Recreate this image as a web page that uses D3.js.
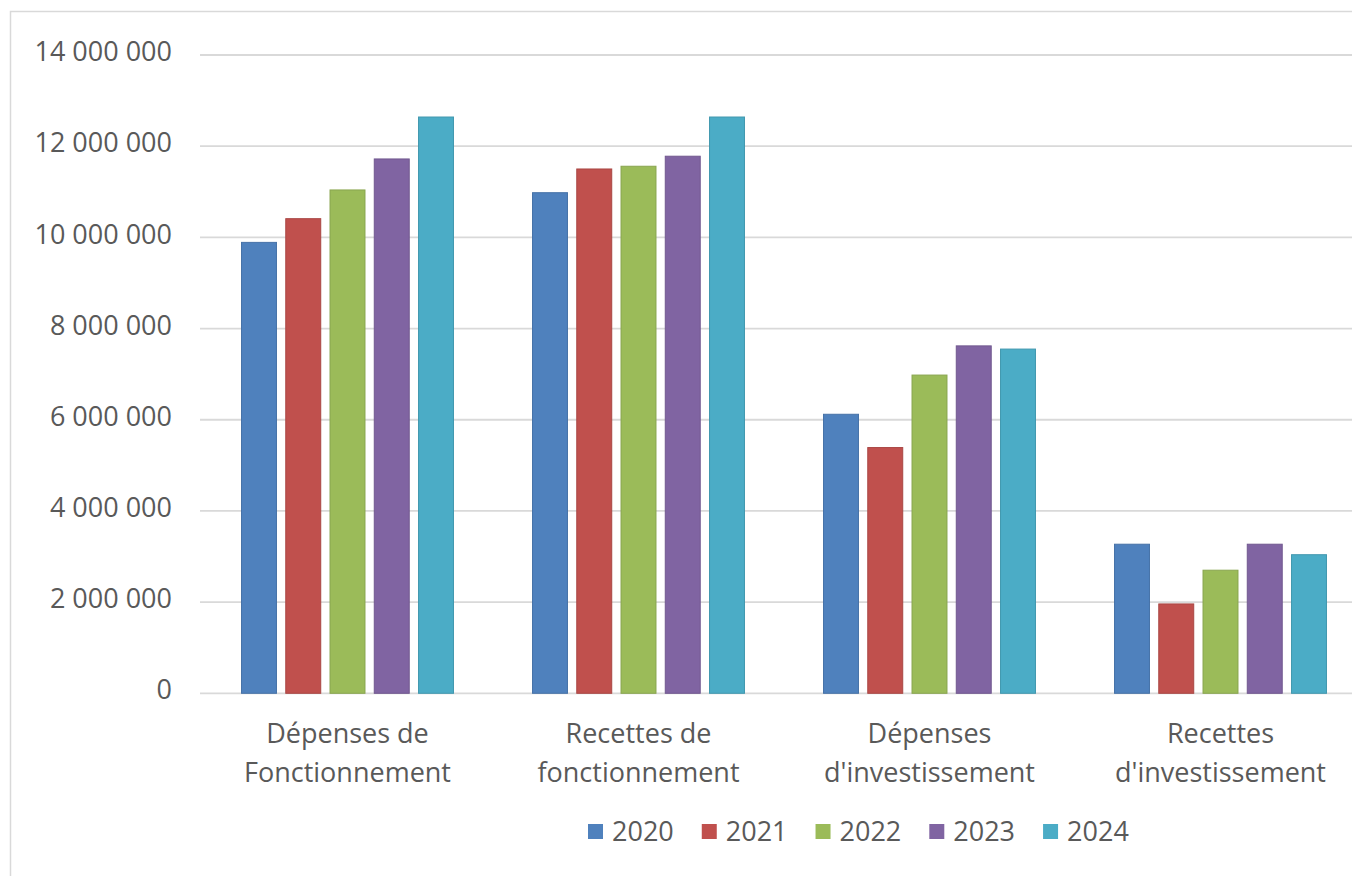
<!DOCTYPE html>
<html>
<head>
<meta charset="utf-8">
<script src="https://cdn.jsdelivr.net/npm/d3@7"></script>
<style>
  html, body { margin: 0; padding: 0; background: #ffffff; }
  svg { display: block; }
  text { font-family: "Open Sans", "Liberation Sans", sans-serif; fill: #595959; }
</style>
</head>
<body>
<svg id="chart" width="1352" height="876"></svg>
<script>
// Budget categories (x axis, two lines each)
const categories = ["Dépenses de Fonctionnement", "Recettes de fonctionnement", "Dépenses d'investissement", "Recettes d'investissement"];
const categoryLines = [
  ["Dépenses de", "Fonctionnement"],
  ["Recettes de", "fonctionnement"],
  ["Dépenses", "d'investissement"],
  ["Recettes", "d'investissement"]
];

// Years (series)
const years = ["2020", "2021", "2022", "2023", "2024"];

// Amounts per year, in the category order above (euros)
const values2020 = [9890000, 10980000, 6120000, 3270000];
const values2021 = [10410000, 11500000, 5390000, 1960000];
const values2022 = [11040000, 11560000, 6980000, 2700000];
const values2023 = [11720000, 11780000, 7620000, 3270000];
const values2024 = [12640000, 12640000, 7550000, 3040000];

// Y axis ticks
const yTicks = [0, 2000000, 4000000, 6000000, 8000000, 10000000, 12000000, 14000000];

const seriesValues = [values2020, values2021, values2022, values2023, values2024];
const colors = ["#4F81BD", "#C0504D", "#9BBB59", "#8064A2", "#4BACC6"];

const svg = d3.select("#chart");

// Chart frame
svg.append("rect")
  .attr("x", 10.5).attr("y", 11.5)
  .attr("width", 1400).attr("height", 900)
  .attr("fill", "none")
  .attr("stroke", "#d9d9d9")
  .attr("stroke-width", 1.5);

const plotLeft = 202, plotRight = 1366, plotTop = 55, plotBottom = 693.3;

const y = d3.scaleLinear().domain([0, 14000000]).range([plotBottom, plotTop]);
const x0 = d3.scaleBand().domain(categories).range([plotLeft, plotRight]).padding(0);
const x1 = d3.scaleBand().domain(years).range([0, x0.bandwidth()])
  .paddingInner(0.21).paddingOuter(0.893);

const fmt = v => d3.format(",")(v).replace(/,/g, " ");

// Gridlines
svg.append("g")
  .selectAll("line")
  .data(yTicks)
  .join("line")
  .attr("x1", 200).attr("x2", 1352)
  .attr("y1", d => y(d)).attr("y2", d => y(d))
  .attr("stroke", "#d9d9d9")
  .attr("stroke-width", 1.8);

// Y axis labels
const yAxis = d3.axisLeft(y).tickValues(yTicks).tickFormat(fmt).tickSize(0).tickPadding(0);
const yg = svg.append("g").attr("transform", "translate(172,-3)").call(yAxis);
yg.select(".domain").remove();
yg.selectAll("text")
  .attr("font-family", "Open Sans")
  .attr("font-size", 27)
  .attr("fill", "#595959");

// Bars
const rows = [];
categories.forEach((c, i) => {
  years.forEach((yr, j) => rows.push({ cat: c, year: yr, value: seriesValues[j][i], color: colors[j] }));
});

svg.append("g")
  .selectAll("rect")
  .data(rows)
  .join("rect")
  .attr("x", d => x0(d.cat) + x1(d.year))
  .attr("y", d => y(d.value))
  .attr("width", x1.bandwidth())
  .attr("height", d => y(0) - y(d.value))
  .attr("fill", d => d.color)
  .attr("stroke", d => d3.color(d.color).darker(0.35))
  .attr("stroke-width", 1);

// X axis labels
const xl = svg.append("g");
categories.forEach((c, i) => {
  const cx = x0(c) + x0.bandwidth() / 2;
  const t = xl.append("text")
    .attr("text-anchor", "middle")
    .attr("font-size", 27)
    .attr("x", cx);
  categoryLines[i].forEach((line, k) => {
    t.append("tspan").attr("x", cx).attr("y", 743 + k * 39).text(line);
  });
});

// Legend
const legend = svg.append("g").attr("transform", "translate(588,0)");
let lx = 0;
years.forEach((yr, j) => {
  const g = legend.append("g").attr("transform", `translate(${lx},0)`);
  g.append("rect")
    .attr("x", 0).attr("y", 824)
    .attr("width", 15).attr("height", 15)
    .attr("fill", colors[j]);
  const t = g.append("text")
    .attr("x", 24).attr("y", 841)
    .attr("font-size", 27)
    .text(yr);
  lx += 24 + t.node().getComputedTextLength() + 28;
});
</script>
</body>
</html>
